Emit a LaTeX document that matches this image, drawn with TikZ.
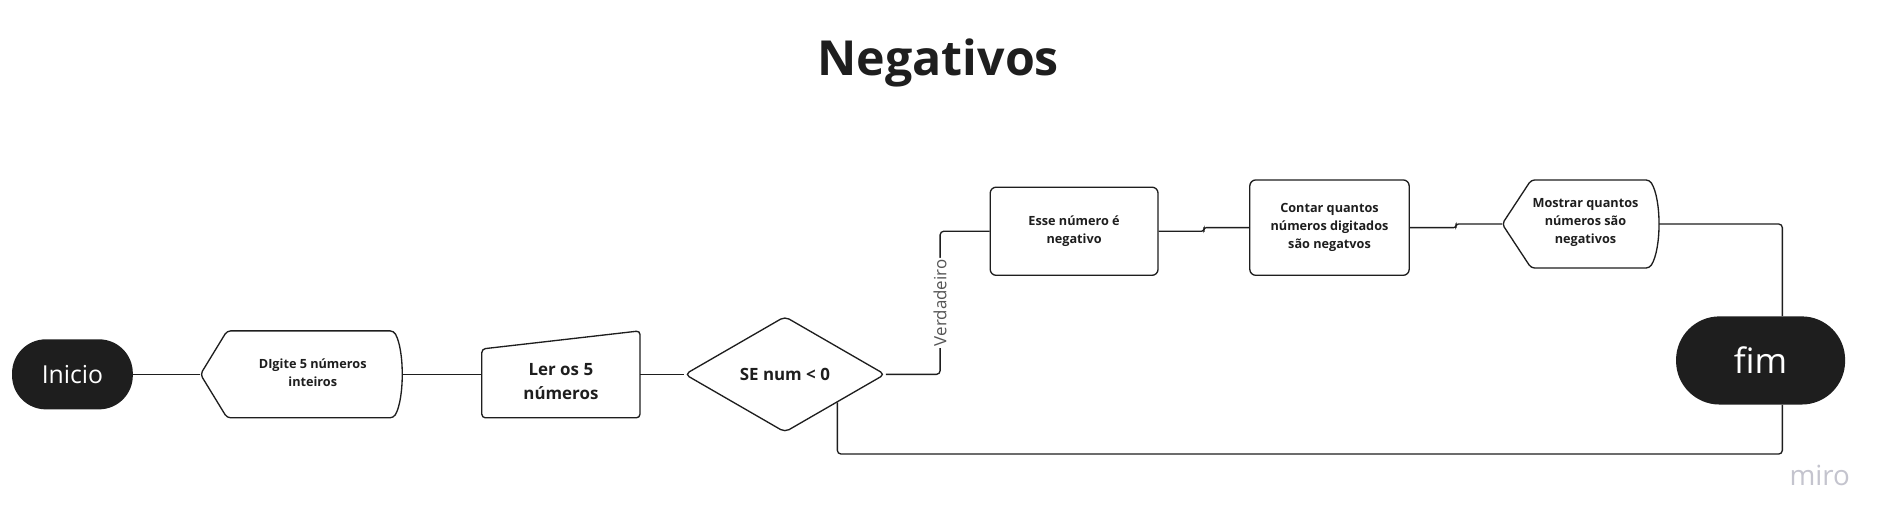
\documentclass[tikz,border=0pt]{standalone}
\usepackage{fontspec}
\setmainfont{Open Sans}
\usetikzlibrary{shapes.geometric,calc}
\definecolor{ink}{HTML}{1E1E1E}
\definecolor{pill}{HTML}{1E1E1E}
\definecolor{lbl}{HTML}{555555}
\definecolor{mirog}{HTML}{C4C4CE}
\tikzset{
  conn/.style={draw=ink, line width=1.1pt, rounded corners=3pt},
  shapeline/.style={draw=ink, line width=1.1pt, rounded corners=3pt},
  term/.style={fill=pill, text=white, inner sep=0pt},
  holder/.style={inner sep=0pt, outer sep=0pt},
  boxtxt/.style={align=center, text=ink, inner sep=0pt, font=\fontsize{10.5}{15}\selectfont\bfseries},
  plainbox/.style={draw=ink, line width=1.1pt, rounded corners=5pt, inner sep=0pt, align=center, text=ink, font=\fontsize{10.5}{15}\selectfont\bfseries},
}
\begin{document}
\begin{tikzpicture}[x=1pt,y=-1pt]
\fill[white] (0,0) rectangle (1566,437.3);
\useasboundingbox (0,0) rectangle (1566,437.3);

% title
\node[text=ink, font=\fontsize{40}{48}\selectfont\bfseries] (title) at (777,52) {Negativos};

% Inicio
\node[term, rounded corners=28pt, minimum width=100pt, minimum height=58pt, font=\fontsize{20.5}{24}\selectfont] (inicio) at (60,310) {Inicio};

% Digite (display shape)
\node[holder, minimum width=167pt, minimum height=72pt] (digite) at (249.5,310) {};
\draw[shapeline] (166,310) -- (188,274) -- (326,274) .. controls (335,290) and (335,330) .. (326,346) -- (188,346) -- cycle;
\node[boxtxt] (digiteT) at (259,308.5) {DIgite 5 números\\inteiros};

% Ler (manual input)
\node[holder, minimum width=131pt, minimum height=72pt] (ler) at (464.5,310) {};
\draw[shapeline] (399,289) -- (530,274) -- (530,346) -- (399,346) -- cycle;
\node[boxtxt, font=\fontsize{14}{20}\selectfont\bfseries] (lerT) at (464.5,316) {Ler os 5\\números};

% decision
\node[diamond, draw=ink, line width=1.1pt, rounded corners=4pt, minimum width=166pt, minimum height=96pt, inner sep=0pt, text=ink, font=\fontsize{14}{18}\selectfont\bfseries] (se) at (650,310) {SE num < 0};

% Esse
\node[plainbox, minimum width=139pt, minimum height=73pt] (esse) at (889.5,191.5) {Esse número é\\negativo};

% Contar
\node[plainbox, minimum width=132pt, minimum height=79pt] (contar) at (1101,188.5) {Contar quantos\\números digitados\\são negatvos};

% Mostrar (display shape)
\node[holder, minimum width=130pt, minimum height=73pt] (mostrar) at (1309,185.5) {};
\draw[shapeline] (1244,185.5) -- (1268,149) -- (1366,149) .. controls (1376,165) and (1376,206) .. (1366,222) -- (1268,222) -- cycle;
\node[boxtxt] (mostrarT) at (1313,184) {Mostrar quantos\\números são\\negativos};

% fim
\node[term, rounded corners=36pt, minimum width=140pt, minimum height=73pt, font=\fontsize{29}{34}\selectfont] (fim) at (1458,298.5) {fim};

% miro mark
\node[text=mirog, font=\fontsize{23}{26}\selectfont] (miro) at (1507,394) {miro};

% helper coordinates
\coordinate (fimN) at ($(fim.north)+(18,0)$);
\coordinate (fimS) at ($(fim.south)+(18,0)$);
\coordinate (seSE) at ($(se.east)!0.48!(se.south)$);
\coordinate (loopy) at (0,376);
\coordinate (vx) at ($(se.east)+(45,0)$);

% connectors
\draw[conn] (inicio.east) -- (digite.west);
\draw[conn] (digite.east) -- (ler.west);
\draw[conn] (ler.east) -- (se.west);
\draw[conn] (se.east) -- (vx) |- node[pos=0.25, rotate=90, fill=white, text=lbl, inner sep=1.5pt, font=\fontsize{14}{14}\selectfont] (verd) {Verdadeiro} (esse.west);
\draw[conn, rounded corners=2pt] (esse.east) -| ($(esse.east)!0.5!(contar.west)$) |- (contar.west);
\draw[conn, rounded corners=2pt] (contar.east) -| ($(contar.east)!0.5!(mostrar.west)$) |- (mostrar.west);
\draw[conn] (mostrar.east) -| (fimN);
\draw[conn] (seSE) -- (seSE |- loopy) -| (fimS);
\end{tikzpicture}
\end{document}
